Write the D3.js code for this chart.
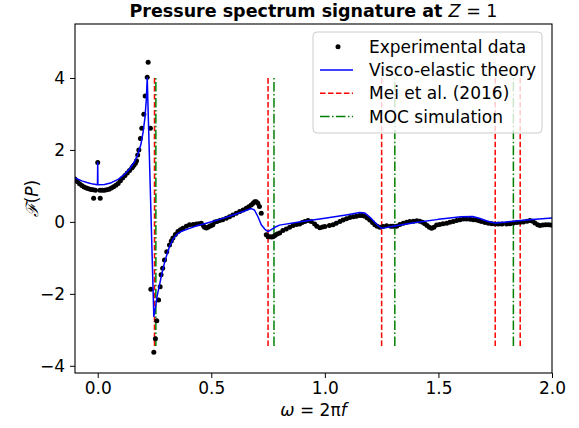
<!DOCTYPE html>
<html><head><meta charset="utf-8">
<script src="https://cdn.jsdelivr.net/npm/d3@7"></script>
<style>
body{margin:0;background:#fff}
text{font-family:"DejaVu Sans",sans-serif}
</style>
</head><body>
<svg id="c" width="579" height="428"></svg>
<script>
// ---------- data ----------
const expOmega = [-0.10,-0.09,-0.08,-0.07,-0.06,-0.05,-0.04,-0.03,-0.02,-0.018,-0.01,0.00,0.011,0.01,0.02,0.03,0.04,0.05,0.06,0.07,0.08,0.09,0.10,0.11,0.12,0.13,0.14,0.15,0.155,0.16,0.166,0.171,0.176,0.181,0.188,0.194,0.203,0.209,0.218,0.222,0.232,0.234,0.247,0.254,0.260,0.268,0.275,0.279,0.286,0.294,0.304,0.316,0.324,0.331,0.342,0.353,0.364,0.375,0.39,0.404,0.42,0.434,0.445,0.456,0.465,0.47,0.478,0.485,0.493,0.50,0.507,0.515,0.525,0.537,0.55,0.566,0.58,0.595,0.61,0.625,0.64,0.654,0.665,0.676,0.684,0.691,0.698,0.705,0.712,0.72,0.742,0.75,0.757,0.765,0.772,0.78,0.79,0.801,0.815,0.83,0.845,0.86,0.875,0.889,0.90,0.912,0.926,0.94,0.955,0.965,0.978,0.99,1.00,1.02,1.036,1.05,1.066,1.08,1.095,1.11,1.125,1.139,1.154,1.165,1.176,1.187,1.198,1.21,1.22,1.23,1.242,1.257,1.272,1.29,1.30,1.316,1.33,1.345,1.36,1.374,1.39,1.405,1.418,1.43,1.44,1.45,1.46,1.47,1.48,1.492,1.505,1.52,1.536,1.55,1.565,1.58,1.595,1.61,1.624,1.64,1.654,1.668,1.68,1.69,1.705,1.72,1.735,1.75,1.765,1.78,1.80,1.815,1.83,1.845,1.86,1.874,1.89,1.903,1.915,1.925,1.937,1.947,1.96,1.972,1.984,1.995];
const expF = [1.19,1.12,1.06,1.01,0.97,0.94,0.92,0.90,0.89,0.66,0.88,1.65,0.66,0.88,0.88,0.88,0.89,0.91,0.94,0.98,1.02,1.07,1.14,1.22,1.29,1.36,1.43,1.50,1.54,1.58,1.63,1.70,1.86,2.00,2.32,2.60,2.99,3.50,4.02,4.44,2.60,-1.87,-3.62,-3.25,-2.75,-2.17,-1.80,-1.47,-1.29,-1.06,-0.83,-0.64,-0.53,-0.45,-0.35,-0.27,-0.22,-0.18,-0.12,-0.08,-0.07,-0.06,-0.05,-0.04,-0.10,-0.15,-0.17,-0.15,-0.12,-0.10,-0.08,0.00,0.01,0.04,0.06,0.10,0.14,0.19,0.24,0.29,0.33,0.38,0.42,0.47,0.52,0.56,0.56,0.52,0.43,0.24,-0.36,-0.41,-0.41,-0.42,-0.41,-0.38,-0.34,-0.31,-0.24,-0.20,-0.15,-0.10,-0.07,-0.06,-0.02,0.01,0.04,0.01,-0.06,-0.12,-0.16,-0.14,-0.13,-0.10,-0.08,-0.04,0.01,0.05,0.09,0.12,0.14,0.16,0.18,0.18,0.16,0.11,0.05,-0.02,-0.08,-0.12,-0.15,-0.13,-0.11,-0.12,-0.12,-0.12,-0.07,-0.04,-0.01,0.01,0.02,0.03,0.02,-0.01,-0.05,-0.10,-0.15,-0.18,-0.15,-0.09,-0.07,-0.05,-0.04,-0.01,0.01,0.04,0.06,0.08,0.08,0.07,0.06,0.05,0.03,0.01,-0.02,-0.04,-0.05,-0.06,-0.06,-0.06,-0.06,-0.05,-0.03,-0.02,-0.01,0.00,0.02,0.04,0.02,-0.03,-0.08,-0.10,-0.09,-0.08,-0.08,-0.09];

const theoryOmega = [-0.10,-0.07,-0.04,-0.02,-0.001,0.0,0.001,0.03,0.06,0.09,0.12,0.14,0.16,0.175,0.19,0.20,0.208,0.214,0.218,0.247,0.255,0.262,0.272,0.283,0.294,0.305,0.316,0.33,0.346,0.37,0.404,0.44,0.478,0.537,0.60,0.65,0.676,0.69,0.705,0.72,0.735,0.75,0.78,0.80,0.90,1.00,1.10,1.154,1.175,1.20,1.23,1.25,1.30,1.40,1.50,1.60,1.65,1.68,1.72,1.75,1.80,1.90,2.00];
const theoryF = [1.22,1.14,1.08,1.05,1.03,1.65,1.03,1.04,1.09,1.18,1.33,1.47,1.65,1.85,2.15,2.50,2.90,3.40,4.00,-2.63,-2.35,-2.05,-1.75,-1.42,-1.14,-0.90,-0.69,-0.50,-0.36,-0.26,-0.18,-0.10,-0.04,0.07,0.20,0.31,0.37,0.33,0.15,-0.08,-0.20,-0.27,-0.15,-0.09,0.01,0.10,0.20,0.26,0.25,0.12,-0.08,-0.18,-0.12,-0.02,0.07,0.14,0.15,0.10,0.01,-0.03,0.00,0.06,0.11];

const meiOmega = [0.25, 0.75, 1.25, 1.75, 1.86];
const mocOmega = [0.256, 0.776, 1.308, 1.83];
const vlineRange = [-3.45, 4.0];

const xDomain = [-0.1, 2.0];
const yDomain = [-4.2, 5.5];
const xTicks = [0, 0.5, 1.0, 1.5, 2.0];
const yTicks = [-4, -2, 0, 2, 4];
const legendLabels = ["Experimental data", "Visco-elastic theory", "Mei et al. (2016)", "MOC simulation"];

// ---------- layout ----------
const W = 579, H = 428;
const L = 75, R = 552, T = 24, B = 373;
const svg = d3.select("#c");
const x = d3.scaleLinear().domain(xDomain).range([L, R]);
const y = d3.scaleLinear().domain(yDomain).range([B, T]);

svg.append("defs").append("clipPath").attr("id","clip")
  .append("rect").attr("x",L).attr("y",T).attr("width",R-L).attr("height",B-T);

const plot = svg.append("g").attr("clip-path","url(#clip)");

// vertical lines
plot.selectAll("line.mei").data(meiOmega).enter().append("line")
  .attr("x1", d=>x(d)).attr("x2", d=>x(d))
  .attr("y1", y(vlineRange[0])).attr("y2", y(vlineRange[1]))
  .attr("stroke","#ff0000").attr("stroke-width",1.5).attr("stroke-dasharray","5.55,2.4");
plot.selectAll("line.moc").data(mocOmega).enter().append("line")
  .attr("x1", d=>x(d)).attr("x2", d=>x(d))
  .attr("y1", y(vlineRange[0])).attr("y2", y(vlineRange[1]))
  .attr("stroke","#008000").attr("stroke-width",1.5).attr("stroke-dasharray","9.6,2.4,1.5,2.4");

// experimental dots
const expData = expOmega.map((w,i)=>[w, expF[i]]);
plot.selectAll("circle.exp").data(expData).enter().append("circle")
  .attr("cx", d=>x(d[0])).attr("cy", d=>y(d[1])).attr("r", 2.5).attr("fill","#000");

// theory line
const thData = theoryOmega.map((w,i)=>[w, theoryF[i]]);
plot.append("path").datum(thData)
  .attr("d", d3.line().x(d=>x(d[0])).y(d=>y(d[1])))
  .attr("fill","none").attr("stroke","#0000ff").attr("stroke-width",1.5).attr("stroke-linejoin","round");

// axes
const fmtX = d => d3.format(".1f")(d);
const fmtY = d => (d<0 ? "\u2212" + Math.abs(d) : String(d));
const gx = svg.append("g").attr("transform",`translate(0,${B})`)
  .call(d3.axisBottom(x).tickValues(xTicks).tickFormat(fmtX).tickSize(5).tickPadding(4));
const gy = svg.append("g").attr("transform",`translate(${L},0)`)
  .call(d3.axisLeft(y).tickValues(yTicks).tickFormat(fmtY).tickSize(5).tickPadding(5));
[gx, gy].forEach(g => {
  g.select(".domain").remove();
  g.selectAll("text").attr("font-size",17).attr("fill","#000").attr("font-family","DejaVu Sans");
  g.selectAll("line").attr("stroke","#000").attr("stroke-width",1);
});

// frame
svg.append("rect").attr("x",L).attr("y",T).attr("width",R-L).attr("height",B-T)
  .attr("fill","none").attr("stroke","#000").attr("stroke-width",1.1);

// title
const title = svg.append("text").attr("x",(L+R)/2).attr("y",17).attr("text-anchor","middle")
  .attr("font-size",17.5).attr("font-weight","bold");
title.append("tspan").text("Pressure spectrum signature at ");
title.append("tspan").attr("font-style","italic").attr("font-weight","normal").text("Z");
title.append("tspan").attr("font-weight","normal").text(" = 1");

// axis labels
const xl = svg.append("text").attr("x",(L+R)/2).attr("y",416).attr("text-anchor","middle").attr("font-size",17);
xl.append("tspan").attr("font-style","italic").text("ω");
xl.append("tspan").text(" = 2π");
xl.append("tspan").attr("font-style","italic").text("f");

const yl = svg.append("text").attr("transform",`translate(38,${(T+B)/2}) rotate(-90)`)
  .attr("text-anchor","middle").attr("font-size",17);
yl.append("tspan").attr("font-family","DejaVu Serif").attr("font-style","italic").text("ℱ");
yl.append("tspan").text("(");
yl.append("tspan").attr("font-style","italic").text("P");
yl.append("tspan").text(")");

// legend
const lg = svg.append("g");
lg.append("rect").attr("x",313).attr("y",32).attr("width",229).attr("height",101)
  .attr("rx",4).attr("fill","#fff").attr("fill-opacity",0.8).attr("stroke","#cccccc").attr("stroke-width",1);
const rowY = i => 46.7 + i*23.3;
lg.append("circle").attr("cx",338).attr("cy",rowY(0)).attr("r",2.5).attr("fill","#000");
lg.append("line").attr("x1",320).attr("x2",353).attr("y1",rowY(1)).attr("y2",rowY(1))
  .attr("stroke","#0000ff").attr("stroke-width",1.5);
lg.append("line").attr("x1",320).attr("x2",353).attr("y1",rowY(2)).attr("y2",rowY(2))
  .attr("stroke","#ff0000").attr("stroke-width",1.5).attr("stroke-dasharray","5.55,2.4");
lg.append("line").attr("x1",320).attr("x2",353).attr("y1",rowY(3)).attr("y2",rowY(3))
  .attr("stroke","#008000").attr("stroke-width",1.5).attr("stroke-dasharray","9.6,2.4,1.5,2.4");
lg.selectAll("text.lab").data(legendLabels).enter().append("text")
  .attr("x",369).attr("y",(d,i)=>rowY(i)).attr("dy","0.35em").attr("font-size",17).text(d=>d);
</script>
</body></html>
